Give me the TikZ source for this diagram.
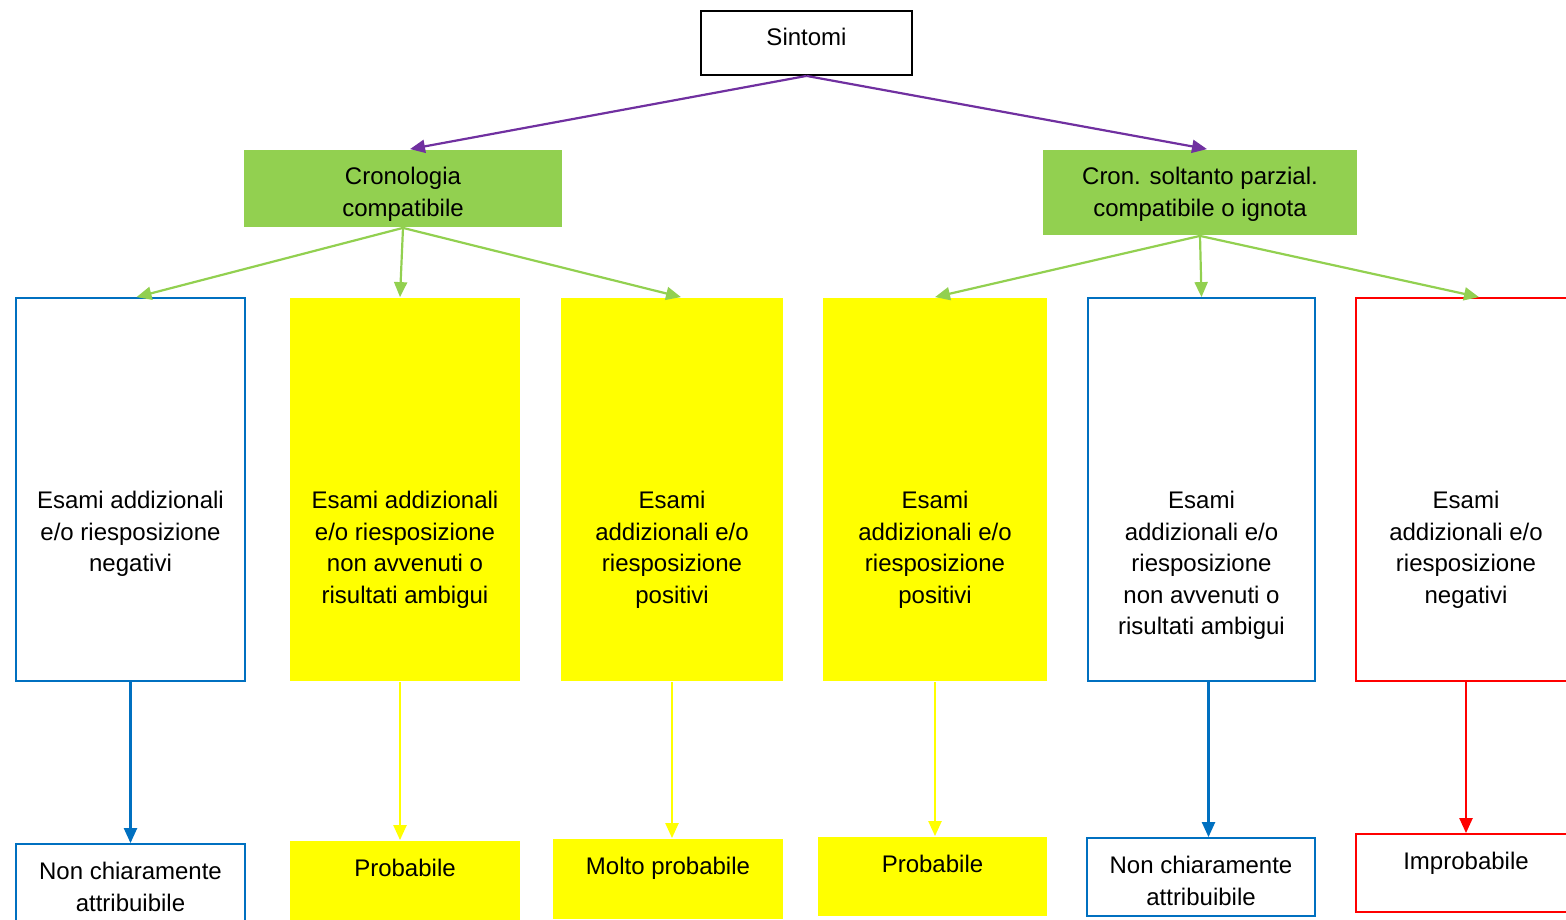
\documentclass[tikz,border=0pt]{standalone}
\usepackage{fontspec}
\setmainfont{Liberation Sans}
\usetikzlibrary{arrows.meta,positioning}

\definecolor{verde}{HTML}{92D050}
\definecolor{viola}{HTML}{7030A0}
\definecolor{blu}{HTML}{0070C0}
\definecolor{giallo}{HTML}{FFFF00}
\definecolor{rosso}{HTML}{FF0000}

\begin{document}
\begin{tikzpicture}[x=1pt,y=-1pt,
    box/.style={rectangle,inner sep=0pt,line width=1.8pt,align=center,
      font=\fontsize{24}{31.5}\selectfont},
    txt/.style={inner sep=0pt,align=center,font=\fontsize{24}{31.5}\selectfont},
    alta/.style={box,minimum height=383pt},
    bassa/.style={box,minimum height=80pt},
    freccia/.style={line width=2.2pt,-{Triangle[length=15pt,width=13pt]}}]
      \useasboundingbox (0,0) rectangle (1566,919);
      \node[box,draw=black,minimum width=211pt,minimum height=64pt,text height=17pt,text depth=12pt] (sint) at (806.5,43) {Sintomi};
      \node[box,fill=verde,minimum width=318pt,minimum height=77pt] (cc) at (403,188.5) {};
      \node[box,fill=verde,minimum width=314pt,minimum height=85pt] (cs) at (1200,192.5) {};
      \node[txt,below=18pt of cc.north] (tcc) {Cronologia\\compatibile};
      \node[txt,below=18pt of cs.north] (tcs) {Cron. soltanto parzial.\\compatibile o ignota};
      \node[alta,draw=blu,minimum width=229pt] (m1) at (130.5,489.5) {};
      \node[alta,fill=giallo,minimum width=230pt] (m2) at (405,489.5) {};
      \node[alta,fill=giallo,minimum width=222pt] (m3) at (672,489.5) {};
      \node[alta,fill=giallo,minimum width=224pt] (m4) at (935,489.5) {};
      \node[alta,draw=blu,minimum width=227pt] (m5) at (1201.5,489.5) {};
      \node[alta,draw=rosso,minimum width=220pt] (m6) at (1466,489.5) {};
      \node[txt,below=194pt of m1.north] (t1) {Esami addizionali\\e/o riesposizione\\negativi};
      \node[txt,below=194pt of m2.north] (t2) {Esami addizionali\\e/o riesposizione\\non avvenuti o\\risultati ambigui};
      \node[txt,below=194pt of m3.north] (t3) {Esami\\addizionali e/o\\riesposizione\\positivi};
      \node[txt,below=194pt of m4.north] (t4) {Esami\\addizionali e/o\\riesposizione\\positivi};
      \node[txt,below=194pt of m5.north] (t5) {Esami\\addizionali e/o\\riesposizione\\non avvenuti o\\risultati ambigui};
      \node[txt,below=194pt of m6.north] (t6) {Esami\\addizionali e/o\\riesposizione\\negativi};
      \node[bassa,draw=blu,minimum width=229pt] (b1) at (130.5,884) {};
      \node[bassa,fill=giallo,minimum width=230pt] (b2) at (405,881) {};
      \node[bassa,fill=giallo,minimum width=230pt] (b3) at (668,879) {};
      \node[bassa,fill=giallo,minimum width=229pt,minimum height=79pt] (b4) at (932.5,876.5) {};
      \node[bassa,draw=blu,minimum width=228pt,minimum height=78pt] (b5) at (1201,877) {};
      \node[bassa,draw=rosso,minimum width=220pt,minimum height=78pt] (b6) at (1466,873) {};
      \node[txt,below=19pt of b1.north] (u1) {Non chiaramente\\attribuibile};
      \node[txt,below=19pt of b2.north] (u2) {Probabile};
      \node[txt,below=19pt of b3.north] (u3) {Molto probabile};
      \node[txt,below=19pt of b4.north] (u4) {Probabile};
      \node[txt,below=19pt of b5.north] (u5) {Non chiaramente\\attribuibile};
      \node[txt,below=19pt of b6.north] (u6) {Improbabile};
      \draw[freccia,viola] (sint.south) -- ([xshift=7pt]cc.north);
      \draw[freccia,viola] (sint.south) -- ([xshift=7pt]cs.north);
      \draw[freccia,verde] (cc.south) -- ([xshift=6pt]m1.north);
      \draw[freccia,verde] (cc.south) -- ([xshift=-5pt]m2.north);
      \draw[freccia,verde] (cc.south) -- ([xshift=9pt]m3.north);
      \draw[freccia,verde] (cs.south) -- (m4.north);
      \draw[freccia,verde] (cs.south) -- (m5.north);
      \draw[freccia,verde] (cs.south) -- ([xshift=13pt]m6.north);
      \draw[freccia,blu] (m1.south) -- (m1.south |- b1.north);
      \draw[freccia,giallo] ([xshift=-5pt]m2.south) -- ([xshift=-5pt]m2.south |- b2.north);
      \draw[freccia,giallo] (m3.south) -- (m3.south |- b3.north);
      \draw[freccia,giallo] (m4.south) -- (m4.south |- b4.north);
      \draw[freccia,blu] ([xshift=7pt]m5.south) -- ([xshift=7pt]m5.south |- b5.north);
      \draw[freccia,rosso] (m6.south) -- (m6.south |- b6.north);
    \end{tikzpicture}
\end{document}
